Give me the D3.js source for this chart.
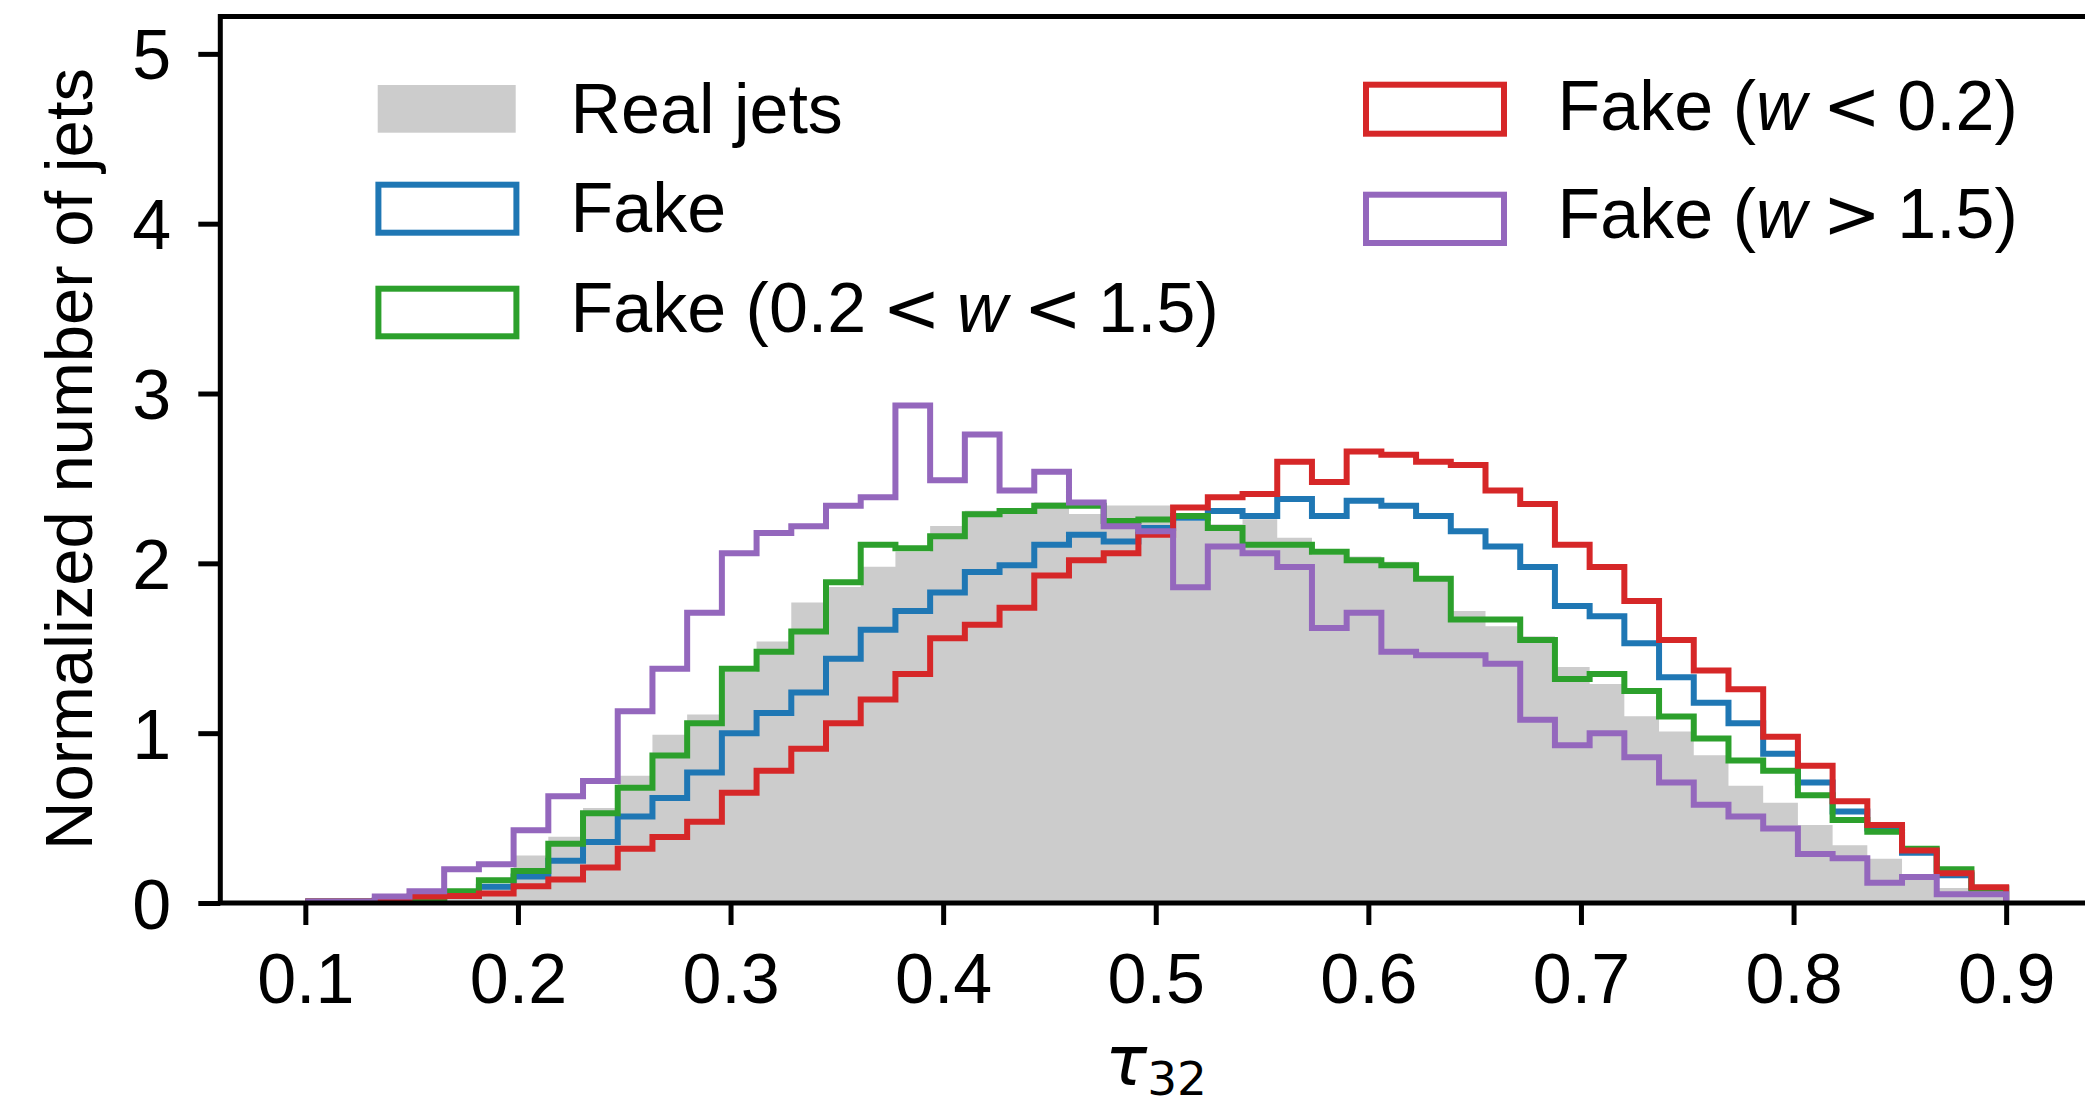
<!DOCTYPE html>
<html><head><meta charset="utf-8">
<script src="https://cdn.jsdelivr.net/npm/d3@7"></script>
<style>body{margin:0;background:#fff} svg{display:block}</style>
</head><body>
<svg id="chart" width="2085" height="1108"></svg>
<script>
// ---- data (49 bins from 0.1 to 0.9) ----
const binStart = 0.1, binEnd = 0.9, nBins = 49;
const realJets = [0, 0.005, 0.01, 0.02, 0.05, 0.10, 0.28, 0.39, 0.56, 0.75, 0.99, 1.11, 1.36, 1.54, 1.77, 1.86, 1.98, 2.07, 2.22, 2.31, 2.31, 2.36, 2.29, 2.34, 2.34, 2.25, 2.23, 2.26, 2.15, 2.05, 2.04, 2.01, 1.90, 1.72, 1.63, 1.57, 1.39, 1.29, 1.10, 1.01, 0.87, 0.69, 0.59, 0.46, 0.34, 0.26, 0.14, 0.088, 0.04];
const fakeAll = [0, 0, 0.005, 0.02, 0.035, 0.087, 0.147, 0.24, 0.35, 0.50, 0.61, 0.76, 0.99, 1.11, 1.23, 1.43, 1.60, 1.71, 1.82, 1.94, 1.98, 2.10, 2.16, 2.12, 2.20, 2.26, 2.30, 2.27, 2.37, 2.27, 2.36, 2.33, 2.27, 2.18, 2.09, 1.97, 1.74, 1.68, 1.52, 1.32, 1.17, 1.05, 0.87, 0.70, 0.53, 0.43, 0.287, 0.155, 0.08];
const fakeMid = [0, 0, 0.005, 0.02, 0.06, 0.125, 0.18, 0.34, 0.52, 0.67, 0.86, 1.05, 1.37, 1.47, 1.59, 1.88, 2.10, 2.08, 2.15, 2.28, 2.30, 2.33, 2.33, 2.24, 2.25, 2.27, 2.20, 2.10, 2.10, 2.06, 2.01, 1.98, 1.90, 1.66, 1.66, 1.54, 1.31, 1.34, 1.24, 1.09, 0.96, 0.83, 0.77, 0.626, 0.48, 0.41, 0.31, 0.19, 0.075];
const fakeLow = [0, 0, 0.005, 0.03, 0.033, 0.047, 0.09, 0.13, 0.20, 0.31, 0.38, 0.47, 0.64, 0.77, 0.90, 1.05, 1.19, 1.34, 1.55, 1.63, 1.73, 1.92, 2.01, 2.05, 2.16, 2.32, 2.38, 2.40, 2.59, 2.47, 2.65, 2.63, 2.59, 2.57, 2.42, 2.34, 2.10, 1.97, 1.77, 1.54, 1.36, 1.25, 0.97, 0.80, 0.59, 0.45, 0.30, 0.167, 0.084];
const fakeHigh = [0, 0, 0.03, 0.06, 0.19, 0.22, 0.42, 0.62, 0.71, 1.12, 1.37, 1.70, 2.05, 2.17, 2.21, 2.33, 2.38, 2.92, 2.48, 2.75, 2.42, 2.53, 2.35, 2.21, 2.18, 1.85, 2.09, 2.05, 1.97, 1.61, 1.70, 1.47, 1.45, 1.45, 1.40, 1.07, 0.92, 0.99, 0.85, 0.70, 0.57, 0.50, 0.43, 0.28, 0.255, 0.11, 0.145, 0.043, 0.043];
const xTicks = [0.1, 0.2, 0.3, 0.4, 0.5, 0.6, 0.7, 0.8, 0.9];
const yTicks = [0, 1, 2, 3, 4, 5];
const seriesNames = ["Real jets", "Fake", "Fake (0.2 < w < 1.5)", "Fake (w < 0.2)", "Fake (w > 1.5)"];
const colors = ["#cccccc", "#1f77b4", "#2ca02c", "#d62728", "#9467bd"];

// ---- scales ----
const svg = d3.select("#chart");
const x = d3.scaleLinear().domain([0.06, 0.94]).range([220.3, 2091.2]);
const y = d3.scaleLinear().domain([0, 5.22]).range([903, 16.5]);
const edges = d3.range(nBins + 1).map(i => binStart + i * (binEnd - binStart) / nBins);
const FONT = "'Liberation Sans', Arial, Helvetica, sans-serif";

function stepPoints(vals) {
  const pts = [[edges[0], 0]];
  vals.forEach((v, i) => { pts.push([edges[i], v]); pts.push([edges[i + 1], v]); });
  pts.push([edges[nBins], 0]);
  return pts;
}
const line = d3.line().x(d => x(d[0])).y(d => y(d[1]));

// filled real jets
svg.append("path")
  .attr("d", line(stepPoints(realJets)) + "Z")
  .attr("fill", colors[0]).attr("stroke", "none");

// step outlines (lifted by the half line width so the zero runs show above the spine)
[fakeAll, fakeMid, fakeLow, fakeHigh].forEach((vals, k) => {
  svg.append("path")
    .attr("transform", "translate(0,-1.5)")
    .attr("d", line(stepPoints(vals)))
    .attr("fill", "none")
    .attr("stroke", colors[k + 1])
    .attr("stroke-width", 6)
    .attr("stroke-linejoin", "miter");
});

// ---- axes ----
const xAxis = svg.append("g").attr("transform", `translate(0,${y(0)})`)
  .call(d3.axisBottom(x).tickValues(xTicks).tickSize(22).tickPadding(28).tickFormat(d3.format(".1f")));
const yAxis = svg.append("g").attr("transform", `translate(${x(0.06)},0)`)
  .call(d3.axisLeft(y).tickValues(yTicks).tickSize(22).tickPadding(27).tickFormat(d3.format("d")));
[xAxis, yAxis].forEach(g => {
  g.select(".domain").remove();
  g.selectAll(".tick line").attr("stroke", "#000").attr("stroke-width", 5);
  g.selectAll(".tick text").attr("fill", "#000").style("font-family", FONT).style("font-size", "70px");
});
yAxis.selectAll(".tick text").attr("dy", "0.357em");

// spines
const x0 = x(0.06), x1 = x(0.94), yb = y(0), yt = y(5.22);
svg.append("path")
  .attr("d", `M${x0},${yb}L${x0},${yt}L${x1},${yt}L${x1},${yb}Z`)
  .attr("fill", "none").attr("stroke", "#000").attr("stroke-width", 5)
  .attr("stroke-linejoin", "miter");

// axis labels
svg.append("text")
  .attr("transform", "translate(92,459) rotate(-90)")
  .attr("text-anchor", "middle")
  .style("font-family", FONT).style("font-size", "67px")
  .text("Normalized number of jets");

const xl = svg.append("text")
  .attr("x", 1156).attr("y", 1085)
  .attr("text-anchor", "middle")
  .style("font-family", "'DejaVu Sans', sans-serif").style("font-size", "70px");
xl.append("tspan").style("font-style", "italic").text("τ");
xl.append("tspan").attr("dy", 10).style("font-size", "47px").text("32");

// ---- legend ----
const legendItems = [
  {k: 0, px: 377.7, py: 85,    ph: 47.7, tx: 570.5, ty: 133.3, filled: true},
  {k: 1, px: 378.4, py: 184.7, ph: 48,   tx: 570.5, ty: 232.3},
  {k: 2, px: 378.4, py: 288.7, ph: 47.6, tx: 570.5, ty: 332.3},
  {k: 3, px: 1366,  py: 84.7,  ph: 49,   tx: 1557.6, ty: 130},
  {k: 4, px: 1366,  py: 194.7, ph: 48.3, tx: 1557.6, ty: 238}
];
const leg = svg.append("g");
legendItems.forEach(it => {
  const r = leg.append("rect").attr("x", it.px).attr("y", it.py)
    .attr("width", 138).attr("height", it.ph);
  if (it.filled) r.attr("fill", colors[it.k]);
  else r.attr("fill", "none").attr("stroke", colors[it.k]).attr("stroke-width", 6);
  const t = leg.append("text").attr("x", it.tx).attr("y", it.ty)
    .style("font-family", FONT).style("font-size", "70px");
  const name = seriesNames[it.k];
  const m = name.match(/^(.*?\()(.*)\)$/);
  if (!m) { t.text(name); return; }
  t.append("tspan").text(m[1]);
  const toks = m[2].split(" ");
  let prevRel = false;
  toks.forEach(tok => {
    const s = t.append("tspan");
    if (tok === "<" || tok === ">") {
      s.attr("dx", 16).style("font-family", "'DejaVu Sans', sans-serif").text(tok);
      prevRel = true;
    } else {
      if (prevRel) s.attr("dx", 16);
      if (tok === "w") s.style("font-style", "italic");
      s.text(tok);
      prevRel = false;
    }
  });
  t.append("tspan").text(")");
});
</script>
</body></html>
